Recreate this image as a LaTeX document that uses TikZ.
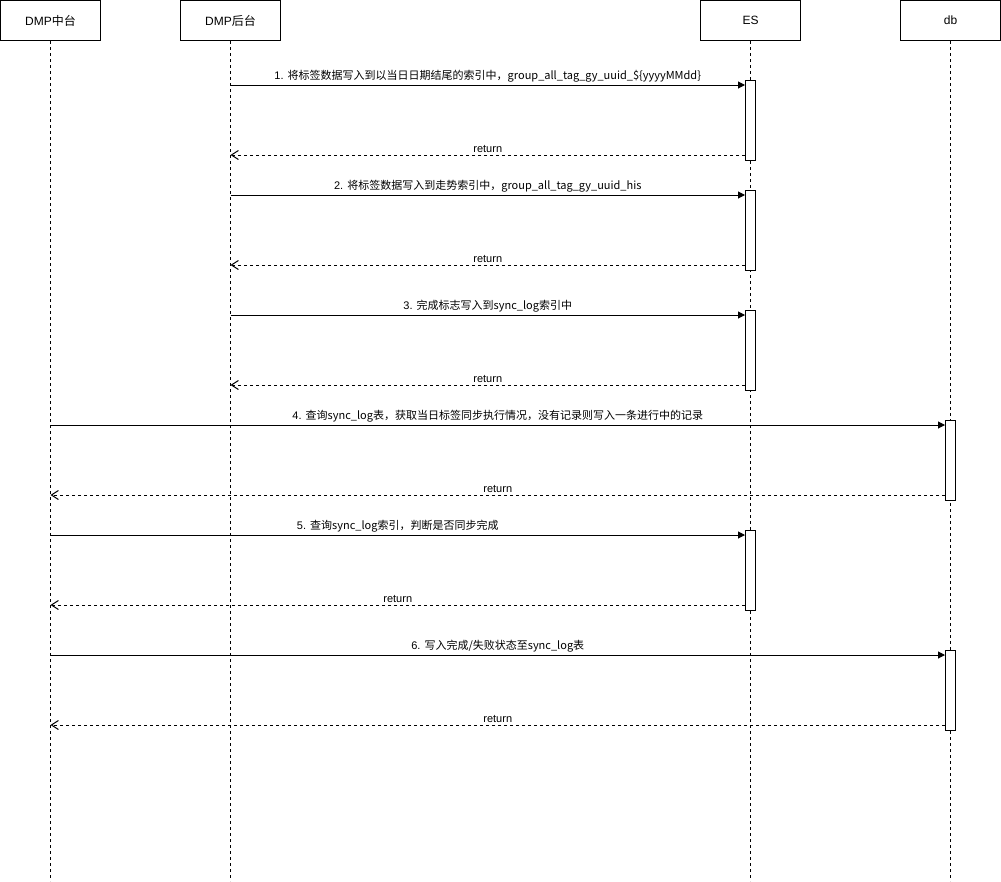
\documentclass[tikz,border=0pt]{standalone}
\usepackage{fontspec}
\setmainfont{Liberation Sans}
\newfontfamily\cjk{Noto Sans CJK SC}
\usetikzlibrary{positioning,arrows.meta}

\begin{document}
\begin{tikzpicture}[x=1pt, y=-1pt,
headnode/.style={rectangle, draw=black, fill=white, line width=1pt, minimum width=100pt, minimum height=40pt, inner sep=0pt, font=\fontsize{12}{14}\selectfont},
actnode/.style={rectangle, draw=black, fill=white, line width=1pt, minimum width=10pt, minimum height=80pt, inner sep=0pt},
lifeline/.style={line width=1pt, dash pattern=on 3pt off 3pt},
msg/.style={line width=1pt, -{Triangle[length=7pt,width=7pt]}},
ret/.style={line width=1pt, dash pattern=on 3pt off 3pt, -{Straight Barb[length=7pt,width=9pt]}},
lbl/.style={above, inner sep=2pt, font=\fontsize{11}{13}\selectfont},
]
\useasboundingbox (0,0) rectangle (1001,881);

%Nodes
\node[headnode]      (zt)      at (50.5,20.5)            {DMP\cjk{中台}};
\node[headnode]      (ht)      [right=79pt of zt]        {DMP\cjk{后台}};
\node[headnode]      (es)      [right=419pt of ht]       {ES};
\node[headnode]      (db)      [right=99pt of es]        {db};
\coordinate (bottom) at (0,881);

%Lifelines
\draw[lifeline] (zt.south) -- (zt.south |- bottom);
\draw[lifeline] (ht.south) -- (ht.south |- bottom);
\draw[lifeline] (es.south) -- (es.south |- bottom);
\draw[lifeline] (db.south) -- (db.south |- bottom);

%Activations
\node[actnode]      (a1)      at (es.south |- 0,120)      {};
\node[actnode]      (a2)      at (es.south |- 0,230)      {};
\node[actnode]      (a3)      at (es.south |- 0,350)      {};
\node[actnode]      (a4)      at (db.south |- 0,460)      {};
\node[actnode]      (a5)      at (es.south |- 0,570)      {};
\node[actnode]      (a6)      at (db.south |- 0,690)      {};

%Messages
\coordinate (m1) at (ht.south |- 0,85);
\coordinate (r1) at (ht.south |- 0,155);
\draw[msg] (m1) -- node[lbl] {1. \cjk{将标签数据写入到以当日日期结尾的索引中，}group\_all\_tag\_gy\_uuid\_\$\{yyyyMMdd\}} (m1 -| a1.west);
\draw[ret] (r1 -| a1.west) -- node[lbl] {return} (r1);

\coordinate (m2) at (ht.south |- 0,195);
\coordinate (r2) at (ht.south |- 0,265);
\draw[msg] (m2) -- node[lbl] {2. \cjk{将标签数据写入到走势索引中，}group\_all\_tag\_gy\_uuid\_his} (m2 -| a2.west);
\draw[ret] (r2 -| a2.west) -- node[lbl] {return} (r2);

\coordinate (m3) at (ht.south |- 0,315);
\coordinate (r3) at (ht.south |- 0,385);
\draw[msg] (m3) -- node[lbl] {3. \cjk{完成标志写入到}sync\_log\cjk{索引中}} (m3 -| a3.west);
\draw[ret] (r3 -| a3.west) -- node[lbl] {return} (r3);

\coordinate (m4) at (zt.south |- 0,425);
\coordinate (r4) at (zt.south |- 0,495);
\draw[msg] (m4) -- node[lbl] {4. \cjk{查询}sync\_log\cjk{表，获取当日标签同步执行情况，没有记录则写入一条进行中的记录}} (m4 -| a4.west);
\draw[ret] (r4 -| a4.west) -- node[lbl] {return} (r4);

\coordinate (m5) at (zt.south |- 0,535);
\coordinate (r5) at (zt.south |- 0,605);
\draw[msg] (m5) -- node[lbl] {5. \cjk{查询}sync\_log\cjk{索引，判断是否同步完成}} (m5 -| a5.west);
\draw[ret] (r5 -| a5.west) -- node[lbl] {return} (r5);

\coordinate (m6) at (zt.south |- 0,655);
\coordinate (r6) at (zt.south |- 0,725);
\draw[msg] (m6) -- node[lbl] {6. \cjk{写入完成}/\cjk{失败状态至}sync\_log\cjk{表}} (m6 -| a6.west);
\draw[ret] (r6 -| a6.west) -- node[lbl] {return} (r6);
\end{tikzpicture}
\end{document}
